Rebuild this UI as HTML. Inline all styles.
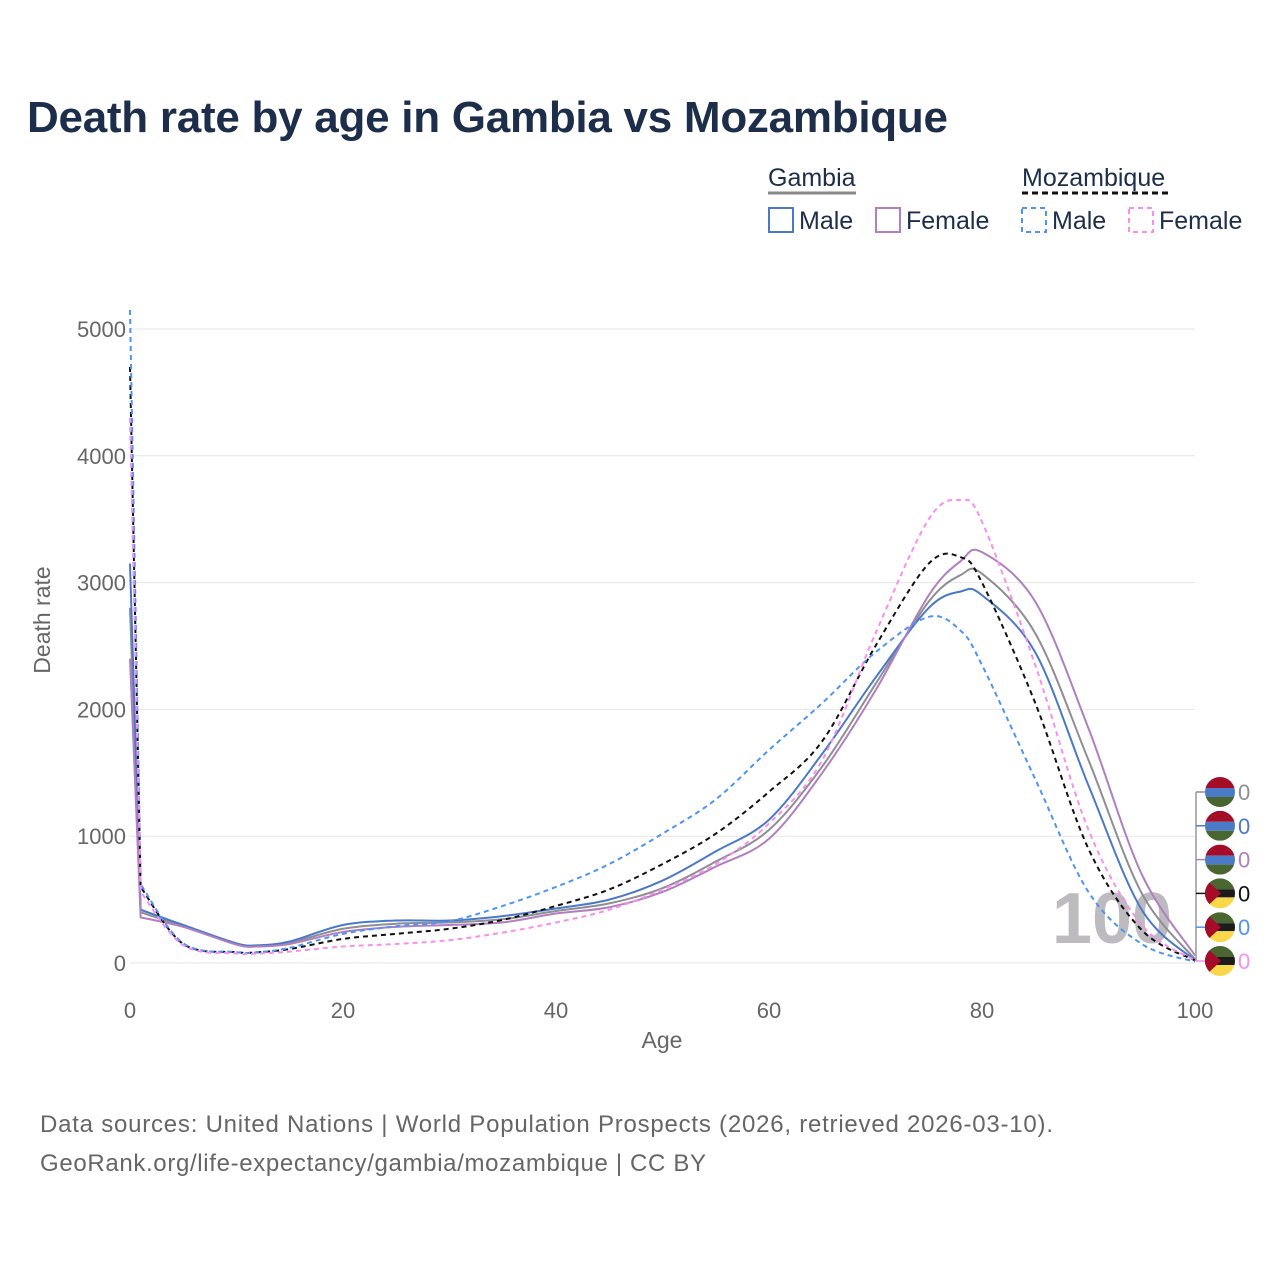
<!DOCTYPE html>
<html><head><meta charset="utf-8"><style>
body{margin:0;background:#fff;font-family:"Liberation Sans",sans-serif}
svg text{font-family:"Liberation Sans",sans-serif}
</style></head><body>
<svg width="1280" height="1280" viewBox="0 0 1280 1280" xmlns="http://www.w3.org/2000/svg">
<text x="27" y="132" font-size="44" font-weight="bold" fill="#1c2e4a" textLength="921">Death rate by age in Gambia vs Mozambique</text>
<g font-size="25" fill="#1c2e4a">
<text x="768" y="186" fill="#1c2e4a">Gambia</text>
<line x1="768" y1="193" x2="856" y2="193" stroke="#888" stroke-width="3"/>
<text x="1022" y="186" fill="#1c2e4a">Mozambique</text>
<line x1="1022" y1="193" x2="1170" y2="193" stroke="#111" stroke-width="3" stroke-dasharray="6,4"/>
<g><rect x="769" y="208" width="24" height="24" fill="none" stroke="#4a7ac7" stroke-width="2"/><text x="799" y="229">Male</text></g>
<g><rect x="876" y="208" width="24" height="24" fill="none" stroke="#b07fc0" stroke-width="2"/><text x="906" y="229">Female</text></g>
<g><rect x="1022" y="208" width="24" height="24" fill="none" stroke="#4d94f5" stroke-width="2" stroke-dasharray="5,4"/><text x="1052" y="229">Male</text></g>
<g><rect x="1129" y="208" width="24" height="24" fill="none" stroke="#f98ef0" stroke-width="2" stroke-dasharray="5,4"/><text x="1159" y="229">Female</text></g>
</g>
<g id="grid"></g>
<text x="1112" y="943" font-size="72" font-weight="bold" fill="#bdbac0" text-anchor="middle">100</text>
<g id="series"></g>
<g id="axes" font-size="22" fill="#666"></g>
<text x="50" y="620" font-size="23" fill="#666" text-anchor="middle" transform="rotate(-90 50 620)">Death rate</text>
<text x="662" y="1048" font-size="23" fill="#666" text-anchor="middle">Age</text>
<g id="endlabels"></g>
<text x="40" y="1132" font-size="24" fill="#666" textLength="1013">Data sources: United Nations | World Population Prospects (2026, retrieved 2026-03-10).</text>
<text x="40" y="1171" font-size="24" fill="#666" textLength="666">GeoRank.org/life-expectancy/gambia/mozambique | CC BY</text>
</svg>
<script>
const ages=[0,1,5,10,12,15,20,25,30,35,40,45,50,55,60,65,70,75,78,80,85,90,95,100];
const gambiaTotal=[2800,400,290,150,135,160,270,310,320,345,410,470,590,800,1050,1550,2200,2850,3060,3070,2600,1600,550,30];
const gambiaMale=[3150,420,300,155,140,170,300,335,335,370,430,500,650,880,1130,1650,2250,2800,2930,2900,2450,1400,420,20];
const gambiaFemale=[2400,360,285,145,130,150,245,285,300,320,390,440,560,760,980,1500,2150,2900,3170,3240,2850,1850,700,60];
const mozTotal=[4700,600,150,85,85,110,190,230,270,340,450,580,780,1020,1350,1750,2500,3150,3200,3000,2050,900,260,20];
const mozMale=[5150,620,155,85,85,120,230,290,330,450,600,780,1020,1290,1680,2050,2450,2730,2620,2350,1450,560,150,10];
const mozFemale=[4300,560,140,75,75,90,130,150,180,240,320,420,580,780,1100,1600,2600,3500,3650,3480,2350,1050,300,20];
const yTicks=[0,1000,2000,3000,4000,5000];
const xTicks=[0,20,40,60,80,100];
const seriesNames=["gambia-total","gambia-male","gambia-female","mozambique-total","mozambique-male","mozambique-female"];
const NS="http://www.w3.org/2000/svg";
const X=a=>130+a*10.65, Y=v=>963-v*0.1268;
function mk(t,attrs,parent){const e=document.createElementNS(NS,t);for(const k in attrs)e.setAttribute(k,attrs[k]);parent.appendChild(e);return e;}
const grid=document.getElementById('grid'),axes=document.getElementById('axes');
yTicks.forEach(v=>{
 const l=mk('line',{x1:130,x2:1195,y1:Y(v),y2:Y(v),stroke:'#e6e6e6','stroke-width':1},grid);
 
 
 const t=mk('text',{x:126,y:Y(v)+8,'text-anchor':'end'},axes);t.textContent=v;
 
 
});
xTicks.forEach(a=>{
 const t=mk('text',{x:X(a),y:1018,'text-anchor':'middle'},axes);t.textContent=a;
 
 
});
function path(vals){
 const p=ages.map((a,i)=>[X(a),Y(vals[i])]);
 let d=`M${p[0][0]},${p[0][1]} L${p[1][0]},${p[1][1]}`;
 for(let i=1;i<p.length-1;i++){
  const p0=p[Math.max(i-1,1)],p1=p[i],p2=p[i+1],p3=p[Math.min(i+2,p.length-1)];
  const c1=[p1[0]+(p2[0]-p0[0])/6,p1[1]+(p2[1]-p0[1])/6],c2=[p2[0]-(p3[0]-p1[0])/6,p2[1]-(p3[1]-p1[1])/6];
  d+=` C${c1[0]},${c1[1]} ${c2[0]},${c2[1]} ${p2[0]},${p2[1]}`;
 }
 return d;
}
const S=[[gambiaTotal,'#8e8e93',null],[gambiaMale,'#4a7ac7',null],[gambiaFemale,'#b07fc0',null],[mozTotal,'#111','5,4'],[mozMale,'#4d94f5','5,4'],[mozFemale,'#f98ef0','5,4']];
const sg=document.getElementById('series');
S.forEach((s,i)=>{
 const a={d:path(s[0]),fill:'none',stroke:s[1],'stroke-width':2};
 if(s[2])a['stroke-dasharray']=s[2];
 const e=mk('path',a,sg);
 
 
});
const el=document.getElementById('endlabels');
mk('line',{x1:1196,x2:1196,y1:792,y2:961,stroke:'#999','stroke-width':1.5},el);
S.forEach((s,i)=>{
 const cy=792+i*33.8;
 mk('line',{x1:1196,x2:1205,y1:cy,y2:cy,stroke:s[1],'stroke-width':1.5},el);
 const g=mk('g',{},el);
 
 
 const cp=mk('clipPath',{id:'c'+i},g);
 mk('circle',{cx:1220,cy:cy,r:15},cp);
 const f=mk('g',{'clip-path':`url(#c${i})`},g);
 if(i<3){
  mk('rect',{x:1205,y:cy-15,width:30,height:11,fill:'#a50c27'},f);
  mk('rect',{x:1205,y:cy-4,width:30,height:9,fill:'#4b7bc6'},f);
  mk('rect',{x:1205,y:cy+5,width:30,height:10,fill:'#4a6630'},f);
 }else{
  mk('rect',{x:1205,y:cy-15,width:30,height:11,fill:'#4a6630'},f);
  mk('rect',{x:1205,y:cy-4,width:30,height:8,fill:'#1b1b1b'},f);
  mk('rect',{x:1205,y:cy+4,width:30,height:11,fill:'#f8d84a'},f);
  mk('polygon',{points:`1205,${cy-15} 1221,${cy} 1205,${cy+15}`,fill:'#a50c27'},f);
 }
 const t=mk('text',{x:1238,y:cy+8,'font-size':22,fill:s[1]},el);t.textContent='0';
 
 
});
</script>
</body></html>
